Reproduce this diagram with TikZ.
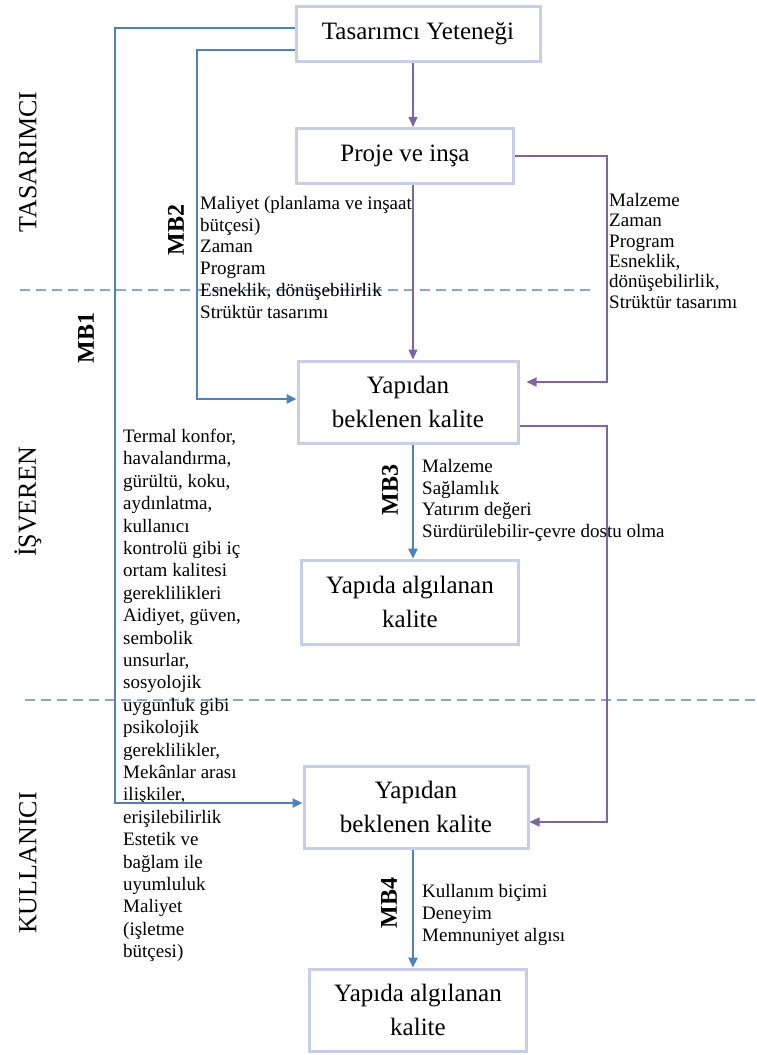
\documentclass[tikz,border=0pt]{standalone}
\usepackage{fontspec}
\setmainfont{Liberation Serif}
\usepackage{xcolor}
\usetikzlibrary{arrows.meta}

\definecolor{kutucizgi}{HTML}{C8CEE8}
\definecolor{mavicizgi}{HTML}{4F81BD}
\definecolor{morcizgi}{HTML}{8064A2}
\definecolor{kesikcizgi}{HTML}{8FA6C6}

\begin{document}
\begin{tikzpicture}[x=1pt,y=-1pt,
    kutu/.style={draw=kutucizgi, line width=3pt, fill=white, align=center, inner sep=0pt,
      font=\fontsize{25}{34}\selectfont},
    mavi/.style={draw=mavicizgi, line width=2.4pt, -{Triangle[length=10pt,width=9pt]}},
    mor/.style={draw=morcizgi, line width=1.3pt, -{Triangle[length=10pt,width=9pt]}},
    kesik/.style={draw=kesikcizgi, line width=1.2pt, dash pattern=on 10pt off 6pt},
    liste/.style={anchor=north west, align=left, inner sep=0pt},
    dikey/.style={rotate=90, inner sep=0pt, font=\fontsize{26}{30}\selectfont},
    mb/.style={rotate=90, inner sep=0pt, font=\fontsize{24}{28}\selectfont\bfseries}]
  \useasboundingbox (0,0) rectangle (756,1055);

  % bolum ayraclari
  \draw[kesik] (20,290) -- (592,290);
  \draw[kesik] (25,700) -- (756,700);

  % kutular
  \node[kutu, minimum width=244pt, minimum height=55pt] (yetenek) at (418,34) {Tasarımcı Yeteneği};
  \node[kutu, minimum width=217pt, minimum height=55pt] (proje) at (405,156) {Proje ve inşa};
  \node[kutu, minimum width=220pt, minimum height=82pt] (beklenen1) at (408,402) {Yapıdan\\beklenen kalite};
  \node[kutu, minimum width=217pt, minimum height=84pt] (algilanan1) at (410,602) {Yapıda algılanan\\kalite};
  \node[kutu, minimum width=224pt, minimum height=82pt] (beklenen2) at (416,807) {Yapıdan\\beklenen kalite};
  \node[kutu, minimum width=217pt, minimum height=82pt] (algilanan2) at (418,1010) {Yapıda algılanan\\kalite};

  % donus noktalari
  \coordinate (orta) at (413,0);
  \coordinate (sag) at (607,0);
  \coordinate (mb1x) at (115,0);
  \coordinate (mb2x) at (197,0);

  % bolum adlari
  \node[dikey] (tasarimci) at (28,162) {TASARIMCI};
  \node[dikey] (isveren) at (28,502) {İŞVEREN};
  \node[dikey] (kullanici) at (28,863) {KULLANICI};

  \node[mb] (mb1) at (86,338) {MB1};
  \node[mb] (mb2) at (176,230) {MB2};
  \node[mb] (mb3) at (390,490) {MB3};
  \node[mb] (mb4) at (389,903) {MB4};

  % listeler
  \node[liste, font=\fontsize{19}{21.8}\selectfont] (liste2) at (200,196) {Maliyet (planlama ve inşaat\\bütçesi)\\Zaman\\Program\\Esneklik, dönüşebilirlik\\Strüktür tasarımı};
  \node[liste, font=\fontsize{19}{20.4}\selectfont] (listesag) at (609,193) {Malzeme\\Zaman\\Program\\Esneklik,\\dönüşebilirlik,\\Strüktür tasarımı};
  \node[liste, font=\fontsize{19}{22.4}\selectfont] (liste1) at (123,429) {Termal konfor,\\havalandırma,\\gürültü, koku,\\aydınlatma,\\kullanıcı\\kontrolü gibi iç\\ortam kalitesi\\gereklilikleri\\Aidiyet, güven,\\sembolik\\unsurlar,\\sosyolojik\\uygunluk gibi\\psikolojik\\gereklilikler,\\Mekânlar arası\\ilişkiler,\\erişilebilirlik\\Estetik ve\\bağlam ile\\uyumluluk\\Maliyet\\(işletme\\bütçesi)};
  \node[liste, font=\fontsize{19}{21.7}\selectfont] (liste3) at (422,459) {Malzeme\\Sağlamlık\\Yatırım değeri\\Sürdürülebilir-çevre dostu olma};
  \node[liste, font=\fontsize{19}{22}\selectfont] (liste4) at (422,884) {Kullanım biçimi\\Deneyim\\Memnuniyet algısı};

  % mor baglantilar
  \draw[mor] (yetenek.south -| orta) -- (proje.north -| orta);
  \draw[mor] (proje.south -| orta) -- (beklenen1.north -| orta);
  \draw[mor, shorten >=7pt] (proje.east) -- (proje.east -| sag) -- ([yshift=20pt]beklenen1.east -| sag) -- ([yshift=20pt]beklenen1.east);
  \draw[mor] ([yshift=-24pt]beklenen1.east) -- ([yshift=-24pt]beklenen1.east -| sag) -- ([yshift=-15pt]beklenen2.east -| sag) -- ([yshift=-15pt]beklenen2.east);

  % mavi baglantilar
  \draw[mavi] ([yshift=6pt]yetenek.west) -- ([yshift=6pt]yetenek.west -| mb1x) -- ([yshift=4pt]beklenen2.west -| mb1x) -- ([yshift=4pt]beklenen2.west);
  \draw[mavi] ([yshift=-16pt]yetenek.west) -- ([yshift=-16pt]yetenek.west -| mb2x) -- ([yshift=3pt]beklenen1.west -| mb2x) -- ([yshift=3pt]beklenen1.west);
  \draw[mavi] (beklenen1.south -| orta) -- (algilanan1.north -| orta);
  \draw[mavi] (beklenen2.south -| orta) -- (algilanan2.north -| orta);
\end{tikzpicture}
\end{document}
